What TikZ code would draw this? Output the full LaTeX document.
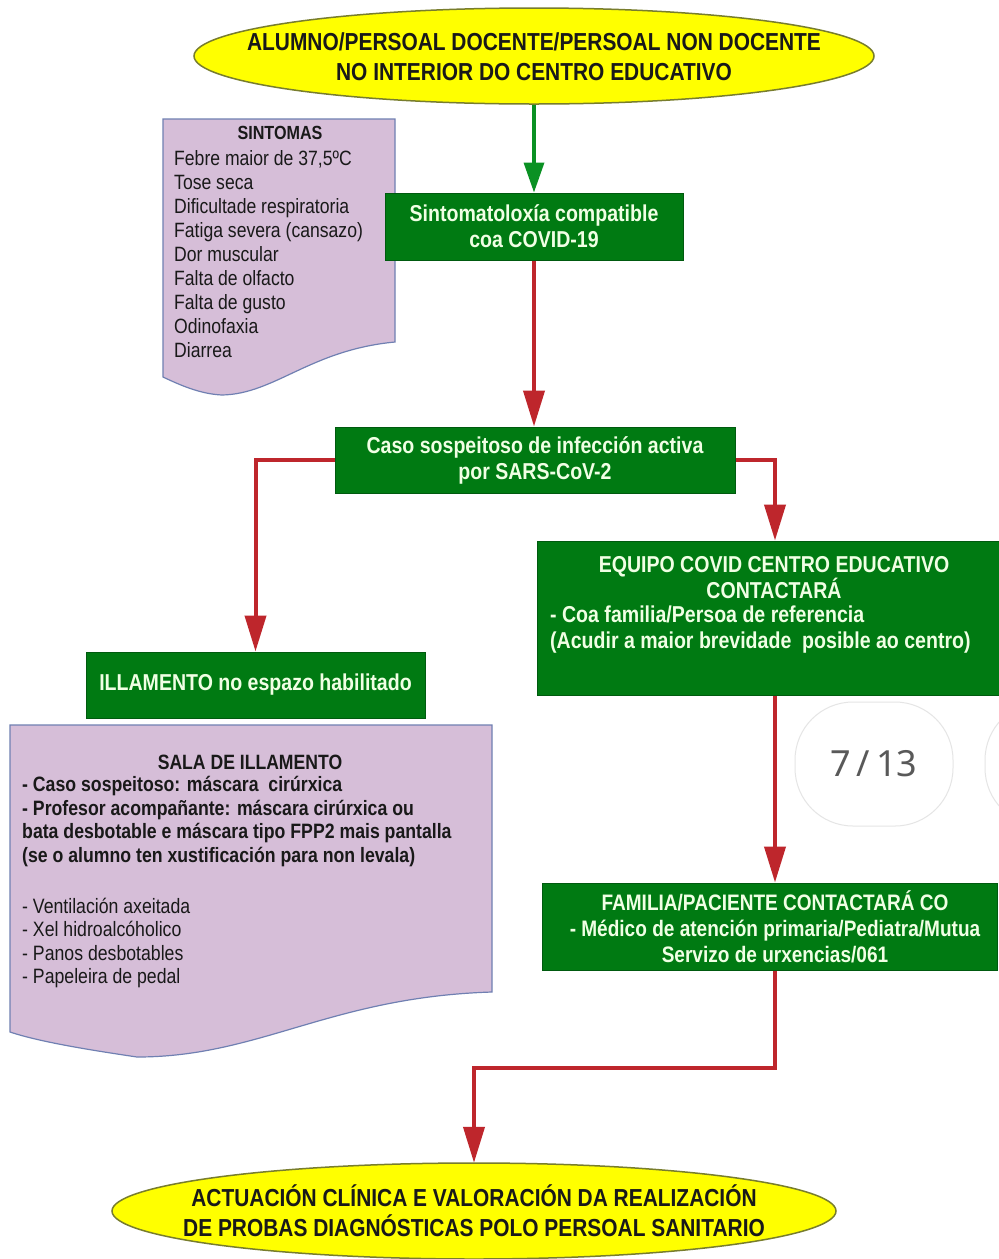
\documentclass[tikz,border=0pt]{standalone}
\usepackage{fontspec}
\setmainfont{Liberation Sans}
\newfontfamily\nar[FakeStretch=0.85]{Liberation Sans}
\newfontfamily\pgfont{Noto Sans}
\usetikzlibrary{arrows.meta}
\definecolor{gfill}{RGB}{0,122,18}
\definecolor{gdark}{RGB}{0,90,15}
\definecolor{gtext}{RGB}{240,255,228}
\definecolor{redc}{RGB}{190,38,44}
\definecolor{garrow}{RGB}{10,145,35}
\definecolor{yel}{RGB}{255,255,0}
\definecolor{yelb}{RGB}{120,125,45}
\definecolor{lav}{RGB}{214,190,216}
\definecolor{lavb}{RGB}{112,128,178}
\definecolor{txt}{RGB}{25,25,25}
\begin{document}
\begin{tikzpicture}[x=1pt,y=-1pt,
  gbox/.style={fill=gfill, draw=gdark, line width=1pt, text=gtext, inner sep=0pt, align=center,
    font=\nar\bfseries\fontsize{23}{26}\selectfont},
  gtxt/.style={text=gtext, inner sep=0pt, font=\nar\bfseries\fontsize{23}{26}\selectfont},
  ytext/.style={inner sep=0pt, align=center, text=txt, font=\nar\bfseries\fontsize{24.6}{30}\selectfont},
  yshape/.style={fill=yel, draw=yelb, line width=1.5pt},
  docshape/.style={fill=lav, draw=lavb, line width=1.2pt},
  doctxt/.style={inner sep=0pt, align=left, text=txt, font=\nar\fontsize{20.7}{24}\selectfont},
  redline/.style={draw=redc, line width=4pt, -{Triangle[length=36pt,width=21pt]}},
  greenline/.style={draw=garrow, line width=3.5pt, -{Triangle[length=30pt,width=20pt]}},
  pill/.style={fill=white, draw=black!10, line width=1pt, rounded corners=58pt}
]
\useasboundingbox (0,0) rectangle (999,1259);
\clip (0,0) rectangle (999,1259);
\fill[white] (0,0) rectangle (999,1259);

% top ellipse
\path[yshape] (534,56) ellipse [x radius=340, y radius=48];
\node[ytext, minimum width=680pt, minimum height=96pt] (top) at (534,57)
  {ALUMNO/PERSOAL DOCENTE/PERSOAL NON DOCENTE\\NO INTERIOR DO CENTRO EDUCATIVO};

% sintomas document
\path[docshape] (163,119) -- (395,119) -- (395,342)
  .. controls (310,350) and (275,394) .. (222,395)
  .. controls (200,394) and (180,385) .. (163,377) -- cycle;
\node[doctxt, font=\nar\bfseries\fontsize{19}{24}\selectfont] (sintt) at (280,133) {SINTOMAS};
\node[doctxt, anchor=west] (sintl) at (174,254)
  {Febre maior de 37,5ºC\\Tose seca\\Dificultade respiratoria\\Fatiga severa (cansazo)\\Dor muscular\\Falta de olfacto\\Falta de gusto\\Odinofaxia\\Diarrea};

% green boxes
\node[gbox, minimum width=298pt, minimum height=67pt] (sint) at (534,226.5)
  {Sintomatoloxía compatible\\coa COVID-19};
\node[gbox, minimum width=400pt, minimum height=66pt] (caso) at (535,460)
  {Caso sospeitoso de infección activa\\por SARS-CoV-2};
\node[gbox, minimum width=339pt, minimum height=66pt] (illam) at (255.5,685)
  {ILLAMENTO no espazo habilitado};
\node[gbox, minimum width=476pt, minimum height=154pt] (equipo) at (775,618) {};
\node[gtxt, align=center] (equipot) at (774,578) {EQUIPO COVID CENTRO EDUCATIVO\\CONTACTARÁ};
\node[gtxt, align=left, anchor=west] (equipob) at (550,630)
  {- Coa familia/Persoa de referencia\\(Acudir a maior brevidade\ \ posible ao centro)};
\node[gbox, minimum width=455pt, minimum height=87pt] (familia) at (769.5,926.5) {};
\node[gtxt, align=center, font=\nar\bfseries\fontsize{22.4}{26}\selectfont] (familiat) at (775,927)
  {FAMILIA/PACIENTE CONTACTARÁ CO\\- Médico de atención primaria/Pediatra/Mutua\\Servizo de urxencias/061};

% sala de illamento document
\path[docshape] (10,725) -- (492,725) -- (492,992)
  .. controls (330,997) and (260,1057) .. (137,1057)
  .. controls (90,1050) and (40,1042) .. (10,1032) -- cycle;
\node[doctxt, font=\nar\bfseries\fontsize{20.7}{24}\selectfont] (salat) at (250,762) {SALA DE ILLAMENTO};
\node[doctxt, anchor=west, font=\nar\bfseries\fontsize{20.8}{23.7}\selectfont] (salab) at (22,821.5)
  {- Caso sospeitoso: máscara\ \ cirúrxica\\- Profesor acompañante: máscara cirúrxica ou\\bata desbotable e máscara tipo FPP2 mais pantalla\\(se o alumno ten xustificación para non levala)};
\node[doctxt, anchor=west, font=\nar\fontsize{20.8}{23.3}\selectfont] (salal) at (22,943)
  {- Ventilación axeitada\\- Xel hidroalcóholico\\- Panos desbotables\\- Papeleira de pedal};

% bottom ellipse
\path[yshape] (474,1211) ellipse [x radius=362, y radius=48];
\node[ytext, minimum width=724pt, minimum height=96pt] (bot) at (474,1211)
  {ACTUACIÓN CLÍNICA E VALORACIÓN DA REALIZACIÓN\\DE PROBAS DIAGNÓSTICAS POLO PERSOAL SANITARIO};

% connectors
\draw[greenline] (top.south) -- (sint.north);
\draw[redline] (sint.south) -- (sint.south |- caso.north);
\draw[redline] (caso.west) -| (illam.north);
\draw[redline] (caso.east) -| (equipo.north);
\draw[redline] (equipo.south) -- (equipo.south |- familia.north);
\coordinate (turn) at (775,1068);
\draw[redline] (turn |- familia.south) -- (turn) -| (bot.north);

% page indicator overlay
\path[pill] (795,702) rectangle (953,826);
\node[inner sep=0pt, text=black!65, font=\pgfont\fontsize{36}{40}\selectfont] (page) at (874,764) {7\,/\,13};
\path[pill] (985,702) rectangle (1130,826);
\end{tikzpicture}
\end{document}
